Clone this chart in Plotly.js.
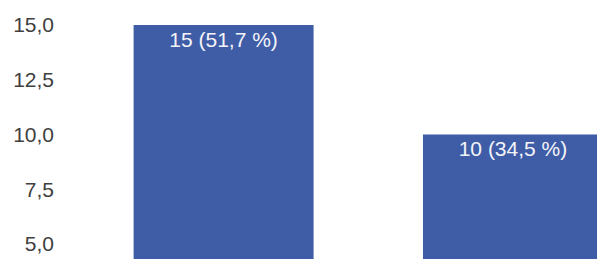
<!DOCTYPE html>
<html>
<head>
<meta charset="utf-8">
<script src="https://cdn.plot.ly/plotly-3.0.1.min.js"></script>
<style>html,body{margin:0;padding:0;background:#fff;}#chart{width:597px;height:259px;}</style>
</head>
<body>
<div id="chart"></div>
<script>
const categories = [0, 1];
const counts = [15, 10];
const labels = ["15 (51,7 %)", "10 (34,5 %)"];
const tickValues = [5, 7.5, 10, 12.5, 15];
const tickLabels = ["5,0", "7,5", "10,0", "12,5", "15,0"];

const trace = {
  type: 'bar',
  x: categories,
  y: counts,
  text: labels,
  textposition: 'inside',
  insidetextanchor: 'end',
  textangle: 0,
  textfont: {family: 'Liberation Sans, Arial, sans-serif', size: 21, color: '#f4f4f8'},
  marker: {color: '#3f5da7', line: {width: 0}},
  width: 0.622,
  hoverinfo: 'none',
  cliponaxis: true
};

const layout = {
  width: 597, height: 259,
  margin: {l: 60, r: 0, t: 0, b: 0},
  paper_bgcolor: '#ffffff',
  plot_bgcolor: '#ffffff',
  showlegend: false,
  xaxis: {
    range: [-0.5653, 1.2904],
    showgrid: false, zeroline: false, showline: false,
    showticklabels: false, ticks: ''
  },
  yaxis: {
    range: [4.315, 16.14],
    tickvals: tickValues,
    ticktext: tickLabels,
    showgrid: false, zeroline: false, showline: false,
    ticks: '',
    ticklabelstandoff: 5,
    tickfont: {family: 'Liberation Sans, Arial, sans-serif', size: 21, color: '#404040'}
  }
};

Plotly.newPlot('chart', [trace], layout, {displayModeBar: false, staticPlot: true});
</script>
</body>
</html>
